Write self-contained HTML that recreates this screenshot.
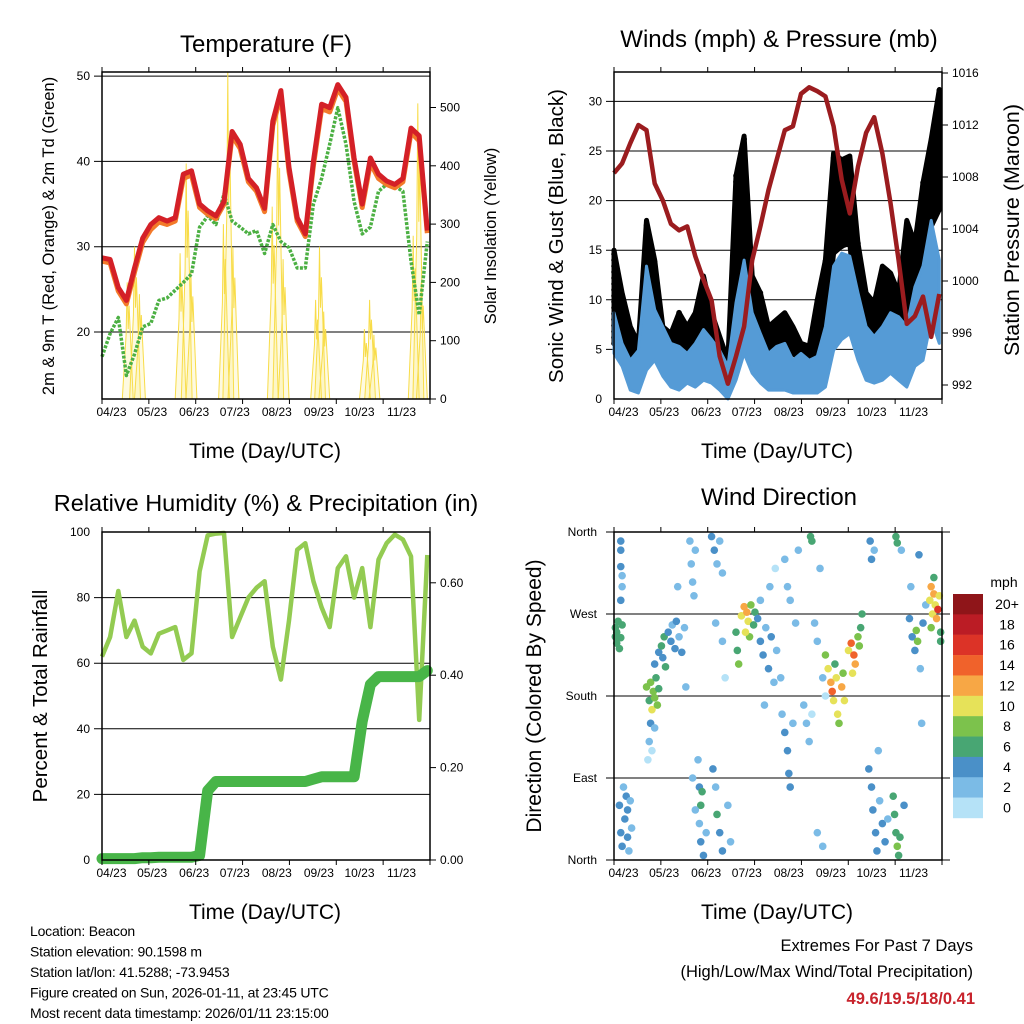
<!DOCTYPE html>
<html><head><meta charset="utf-8"><style>
html,body{margin:0;padding:0;background:#fff;}
svg{display:block;font-family:"Liberation Sans",sans-serif;}
</style></head><body>
<svg id="c" width="1024" height="1024" viewBox="0 0 1024 1024" xmlns="http://www.w3.org/2000/svg"></svg>
<script>
// ---------- data (sample every 6 days, day 0 = left edge) ----------
const tempRed=[28.7,28.5,25.2,23.7,27.5,31,32.6,33.4,33,33.4,38.5,38.9,35,34.2,33.6,35.3,43.5,42,38,36.9,34.5,44.7,48.3,39.3,33.4,31.5,40,46.7,46.3,49,47.5,40.4,35,40.4,38.5,37.7,37.3,38,43.9,43,31.9];
const tempOrange=[28.3,28.1,24.8,23.3,27,30.5,32,32.9,32.6,33,38,38.4,34.6,33.8,33.3,35,43,41.5,37.6,36.5,34.1,44.2,47.7,38.8,33,31.2,39.5,46.2,45.8,48.5,47,40,34.6,39.8,38,37.3,36.9,37.6,43.4,42.4,31.6];
const tempGreen=[17.1,19.8,21.7,14.9,17.4,20.6,21,23.7,24,24.9,25.8,26.8,32.3,33.6,32.6,36.2,33,32.3,31.5,31.9,29.2,32.6,30.6,29.9,27.5,27.5,35,38,42,46.3,42,35.3,31.5,32.3,36.5,37.3,37.1,36.5,28.3,22,30.6];
const solarDays=[19,24.4,28,58,62.5,66,90,93.2,97,126,130,134,158,160.9,164,194,197.8,201,230,233.4,236];
const solarVals=[200,261,180,250,404,220,300,561,260,330,496,240,170,261,150,120,170,110,280,507,200];
const pressure=[1008.3,1009.05,1010.6,1012,1011.6,1007.5,1006.2,1004.4,1003.9,1004.2,1001.9,1000.1,998.5,994.2,992.1,994.2,996.5,1001.6,1004.2,1007,1009.3,1011.6,1011.9,1014.4,1014.9,1014.6,1014.2,1011.9,1007.8,1005.2,1008.8,1011.4,1012.6,1009.8,1006,1001.6,996.7,997.3,998.8,995.7,999];
const windHigh=[8.7,5.6,3.9,4.9,13.4,9,7.3,5.6,5.3,4.6,5.6,7,6,4.9,3.3,9.7,14,8.7,6.6,4.6,5.3,5.6,3.9,4.6,3.9,4.3,7.3,13.4,14.7,14.4,10.7,7.3,6.3,7.3,8.7,8.3,7.3,11.3,13.4,18,14];
const windLow=[4.6,3.3,0.9,0.6,2.9,3.9,2.3,1.2,0.9,1.6,1.2,1.9,1.6,0.9,0,1.9,4.6,2.6,1.6,0.9,0.9,0.9,0.6,0.6,0.6,0.6,1.2,4.9,6,6.6,3.9,1.9,1.6,1.9,2.6,1.9,1.2,3.3,3.9,8,5.6];
const gustHigh=[15,10.7,7.3,5.6,18,14,7.3,6.6,8.7,7.3,8.7,12.4,8.7,6.3,3.9,22.5,26.5,12.4,10.7,7.3,8,8.7,7.3,5.6,5.3,10,14,24.8,24.1,24.5,15.7,10.7,9.7,13.4,12.7,10.7,18,15.7,21.8,26.2,31.2];
const gustLow=[5.6,3.9,2.6,1.9,7.3,6.6,3.9,2.9,3.9,3.9,4.6,5.6,4.6,2.3,0.9,8.7,12.4,6.3,5.3,3.9,4.6,4.6,4.6,3.9,3.3,3.9,7.3,14.7,15.4,15.7,7.3,5.6,4.9,6.6,6.6,6,7.3,8.7,14,17.4,19.1];
const relHum=[62,68,82,68,73,65,63,69,70,71,61,63,88,99,99.5,99.7,68,74,80,83,85,65,55,73,94.6,96.6,85,77,71,89,92.6,80,89,71,91.6,96.6,99.2,97.7,92.6,42.7,93];
const precip=[0.003,0.003,0.003,0.003,0.003,0.005,0.005,0.006,0.006,0.006,0.006,0.006,0.01,0.15,0.17,0.17,0.17,0.17,0.17,0.17,0.17,0.17,0.17,0.17,0.17,0.17,0.175,0.18,0.18,0.18,0.18,0.18,0.30,0.38,0.397,0.397,0.397,0.397,0.397,0.397,0.41];
const dirDays=[1,1,2,2,3,4,5,6,5,5,6,5,5,6,4,5,6,7,8,9,10,10,11,12,13,
24,26,27,28,29,30,31,32,33,27,26,25,28,30,33,35,36,37,38,30,
40,42,43,45,46,48,50,52,53,47,
56,57,58,59,60,62,63,64,65,63,64,66,58,60,68,
72,74,76,78,80,75,80,82,73,75,76,78,80,84,86,
90,91,92,94,96,98,99,101,100,103,104,97,
106,108,110,112,114,116,118,120,108,115,119,111,
124,126,128,129,130,132,126,128,130,134,136,123,
140,142,144,146,148,150,152,145,146,154,156,150,154,
156,158,160,161,162,164,165,166,168,170,163,169,
173,175,177,178,180,182,183,176,181,
188,190,191,193,194,196,198,189,190,192,200,202,195,
206,207,208,209,210,211,208,209,212,214,
218,220,222,223,224,226,228,230,219,225,227,
233,234,235,236,237,238,239,240,241,241,236,234];
const dirDegs=[255,245,238,250,262,232,244,258,340,322,300,285,350,312,60,30,15,80,45,70,25,55,10,65,35,
190,175,195,165,185,178,200,170,188,150,130,110,120,215,228,235,222,245,212,145,
250,240,258,232,262,245,228,255,190,300,
350,325,305,290,340,110,80,60,75,40,20,5,90,55,30,
355,340,325,350,315,260,240,200,100,80,50,30,10,60,20,
250,230,215,268,278,272,262,280,245,258,272,250,
265,240,225,255,210,245,195,230,285,300,320,170,
160,140,120,95,80,150,330,300,285,260,340,200,
170,150,130,160,260,240,320,355,350,200,180,30,15,
225,210,195,185,175,200,160,150,190,175,215,205,
230,238,225,215,245,255,270,205,235,
100,80,55,30,10,65,40,350,330,340,20,45,120,
70,50,30,15,5,25,355,348,340,60,
265,245,230,252,240,210,260,280,300,335,150,
285,300,270,292,280,265,275,290,250,240,310,255];
const dirSpeeds=[7,7,6,7,6,7,6,7,4,4,3,4,5,3,4,5,4,3,4,5,4,4,3,3,2,
8,7,9,10,9,8,7,9,7,5,2,1,1,5,5,6,5,7,6,3,
4,4,3,4,4,3,4,3,2,2,
2,3,2,3,3,3,4,7,7,3,4,4,2,3,3,
4,4,2,3,2,2,2,1,4,3,7,4,4,3,2,
7,7,8,10,12,13,11,9,8,7,7,10,
4,4,4,3,5,4,3,3,2,2,1,2,
3,4,4,4,4,2,3,2,3,2,2,2,
2,3,2,1,2,3,3,7,7,3,1,3,2,
8,11,12,14,11,10,10,9,12,11,7,8,
11,14,15,12,9,7,7,10,8,
4,4,5,4,4,3,4,4,4,3,4,3,3,
7,7,7,8,7,6,7,7,3,4,
4,4,5,9,8,3,4,3,2,4,3,
11,12,10,13,11,12,17,11,7,7,7,8];
const monthLabels=["04/23","05/23","06/23","07/23","08/23","09/23","10/23","11/23"];
const monthDays=[7,37,68,98,129,160,190,221];
const tempTicks=[20,30,40,50];
const solarTicks=[0,100,200,300,400,500];
const windTicks=[0,5,10,15,20,25,30];
const presTicks=[992,996,1000,1004,1008,1012,1016];
const rhTicks=[0,20,40,60,80,100];
const rainTicks=[0,0.2,0.4,0.6];
const dirTicks=[0,90,180,270,360];
const dirNames=["North","East","South","West","North"];
const speedLabels=["20+","18","16","14","12","10","8","6","4","2","0"];
const speedColors=["#8f1519","#bb1c25","#dc3327","#f0622b","#f7a745","#e6e259","#7cc24c","#48a673","#4a90c8","#7bbbe6","#b5e2f7"];

// ---------- helpers ----------
const NS="http://www.w3.org/2000/svg";
const svg=document.getElementById('c');
function mk(tag,attrs,parent){const e=document.createElementNS(NS,tag);for(const k in attrs)e.setAttribute(k,attrs[k]);(parent||svg).appendChild(e);return e;}
function txt(s,x,y,size,anchor,parent,extra){const e=mk('text',Object.assign({x:x,y:y,'font-size':size,'text-anchor':anchor||'middle',fill:'#000'},extra||{}),parent);e.textContent=s;return e;}
const DAYSPAN=242;
function X(P,d){return P.x0+d/DAYSPAN*(P.x1-P.x0);}
function dayOf(i){return i*6;}
const P1={x0:102,x1:430,y0:72,y1:399};
const P2={x0:614,x1:942,y0:72,y1:399};
const P3={x0:102,x1:430,y0:532,y1:860};
const P4={x0:614,x1:942,y0:532,y1:860};
const yT=v=>332-(v-20)*8.53, yS=v=>399-v*0.583;
const yW=v=>399-v*9.92, yP=v=>385-(v-992)*13;
const yR=v=>860-v*3.28, yQ=v=>860-v*462;
const yD=v=>860-v/360*328;
function poly(arr,P,fy){return arr.map((v,i)=>X(P,dayOf(i)).toFixed(1)+','+fy(v).toFixed(1)).join(' ');}

function frame(P,g,name){
  const r=mk('rect',{x:P.x0,y:P.y0,width:P.x1-P.x0,height:P.y1-P.y0,fill:'none',stroke:'#000','stroke-width':1.5},g);
  
  
  for(let k=0;k<8;k++){const x=P.x0+k*(P.x1-P.x0)/7;
    const t1=mk('line',{x1:x,x2:x,y1:P.y1,y2:P.y1+5,stroke:'#000','stroke-width':1},g);
    
    
    const t2=mk('line',{x1:x,x2:x,y1:P.y0,y2:P.y0-5,stroke:'#000','stroke-width':1},g);
    
    }
  monthLabels.forEach((m,i)=>{const t=txt(m,X(P,monthDays[i]),P.y1+17,12,'middle',g);
    
    });
  const xt=txt('Time (Day/UTC)',(P.x0+P.x1)/2-1,P.y1+59,21,'middle',g);
  
  
}
function hgrid(P,vals,fy,g,ext){
  vals.forEach(v=>{const y=fy(v);const l=mk('line',{x1:P.x0-(ext||8),x2:P.x1,y1:y,y2:y,stroke:'#000','stroke-width':1},g);
    
    });
}
function rticks(P,vals,fy,fmt,g){
  vals.forEach(v=>{const y=fy(v);const l=mk('line',{x1:P.x1,x2:P.x1+6,y1:y,y2:y,stroke:'#000'},g);
    
    
    const t=txt(fmt(v),P.x1+10,y+4,12,'start',g);
    
    });
}
function lticks(P,vals,fy,fmt,g,size){
  vals.forEach(v=>{const t=txt(fmt(v),P.x0-12,fy(v)+4,size||12,'end',g);
    
    });
}
function vtitle(s,x,y,size,g,name){const t=txt(s,x,y,size,'middle',g,{transform:'rotate(-90 '+x+' '+y+')'});
  
  }

// ---------- Panel 1: Temperature ----------
const g1=mk('g',{});


let t=txt('Temperature (F)',266,52,24,'middle',g1);


hgrid(P1,tempTicks,yT,g1);
lticks(P1,tempTicks,yT,v=>v,g1);
rticks(P1,solarTicks,yS,v=>v,g1);
solarDays.forEach((d,i)=>{const v=solarVals[i];
  const pts=[[d-4,0],[d-1.2,v*0.55],[d-0.4,v],[d+0.3,v*0.6],[d+1,v*0.8],[d+4,0]].map(p=>X(P1,p[0]).toFixed(1)+','+yS(p[1]).toFixed(1)).join(' ');
  const s=mk('polyline',{points:pts,fill:'rgba(252,230,100,0.2)',stroke:'#f8dc48','stroke-width':1},g1);
  
  });
let l=mk('polyline',{points:poly(tempGreen,P1,yT),fill:'none',stroke:'#4cb043','stroke-width':3.5,'stroke-dasharray':'3 1.5','stroke-linejoin':'round'},g1);


l=mk('polyline',{points:poly(tempOrange,P1,yT),fill:'none',stroke:'#f37a2a','stroke-width':5,'stroke-linejoin':'round'},g1);


l=mk('polyline',{points:poly(tempRed,P1,yT),fill:'none',stroke:'#d42027','stroke-width':5,'stroke-linejoin':'round'},g1);


frame(P1,g1,'temperature');
vtitle('2m & 9m T (Red, Orange) & 2m Td (Green)',54,236,16.5,g1,'temperature-y-axis-title');
vtitle('Solar Insolation (Yellow)',496,236,16.5,g1,'solar-y-axis-title');

// ---------- Panel 2: Winds ----------
const g2=mk('g',{});


t=txt('Winds (mph) & Pressure (mb)',779,47,24,'middle',g2);


hgrid(P2,windTicks.slice(1),yW,g2);
lticks(P2,windTicks,yW,v=>v,g2);
rticks(P2,presTicks,yP,v=>v,g2);
const gustPts=gustHigh.map((v,i)=>X(P2,dayOf(i)).toFixed(1)+','+yW(v).toFixed(1)).concat(gustLow.map((v,i)=>X(P2,dayOf(i)).toFixed(1)+','+yW(v).toFixed(1)).reverse()).join(' ');
l=mk('polygon',{points:gustPts,fill:'#000',stroke:'#000','stroke-width':5,'stroke-linejoin':'round'},g2);


gustHigh.forEach((h,i)=>{const x=X(P2,dayOf(i));
  for(let v=gustLow[i];v<=h+0.01;v+=0.6){const c=mk('circle',{cx:x,cy:yW(v),r:2.8,fill:'#000'},g2);
    
    }});
const bandPts=windHigh.map((v,i)=>X(P2,dayOf(i)).toFixed(1)+','+yW(v).toFixed(1)).concat(windLow.map((v,i)=>X(P2,dayOf(i)).toFixed(1)+','+yW(v).toFixed(1)).reverse()).join(' ');
l=mk('polygon',{points:bandPts,fill:'#559bd6',stroke:'#559bd6','stroke-width':3,'stroke-linejoin':'round'},g2);


l=mk('polyline',{points:poly(pressure,P2,yP),fill:'none',stroke:'#9b1c1f','stroke-width':4.5,'stroke-linejoin':'round'},g2);


frame(P2,g2,'winds');
vtitle('Sonic Wind & Gust (Blue, Black)',563,236,20.5,g2,'wind-y-axis-title');
vtitle('Station Pressure (Maroon)',1019,230,21.5,g2,'pressure-y-axis-title');

// ---------- Panel 3: RH & Precip ----------
const g3=mk('g',{});


t=txt('Relative Humidity (%) & Precipitation (in)',266,511,23.5,'middle',g3);


hgrid(P3,rhTicks.slice(1,5),yR,g3,0);
lticks(P3,rhTicks,yR,v=>v,g3);
rticks(P3,rainTicks,yQ,v=>v.toFixed(2),g3);
l=mk('polyline',{points:poly(relHum,P3,yR),fill:'none',stroke:'#93cb52','stroke-width':4.5,'stroke-linejoin':'round'},g3);


l=mk('polyline',{points:poly(precip,P3,yQ),fill:'none',stroke:'#48b548','stroke-width':11,'stroke-linejoin':'round','stroke-linecap':'round'},g3);


frame(P3,g3,'humidity');
vtitle('Percent & Total Rainfall',47,696,20.5,g3,'humidity-y-axis-title');

// ---------- Panel 4: Wind Direction ----------
const g4=mk('g',{});


t=txt('Wind Direction',779,505,24,'middle',g4);


dirTicks.forEach(v=>{const y=yD(v);const ln=mk('line',{x1:606,x2:950,y1:y,y2:y,stroke:'#000','stroke-width':1},g4);
  
  });
dirTicks.forEach((v,i)=>{const tt=txt(dirNames[i],597,yD(v)+4,12,'end',g4);
  
  });
function spColor(s){let b=Math.floor(s/2);if(b>10)b=10;return speedColors[10-b];}
dirDays.forEach((d,i)=>{const c=mk('circle',{cx:X(P4,d),cy:yD(dirDegs[i]),r:3.8,fill:spColor(dirSpeeds[i])},g4);
  
  });
frame(P4,g4,'wind-direction');
vtitle('Direction (Colored By Speed)',541,696,21,g4,'direction-y-axis-title');
t=txt('mph',1004,587,14,'middle',g4);


speedColors.forEach((c,i)=>{const y=594+i*20.36;
  const r=mk('rect',{x:953,y:y,width:30,height:20.6,fill:c},g4);
  
  
  const tt=txt(speedLabels[i],1007,y+15,14,'middle',g4);
  
  });

// ---------- Footer ----------
const info=["Location: Beacon","Station elevation: 90.1598 m","Station lat/lon: 41.5288; -73.9453","Figure created on Sun, 2026-01-11, at 23:45 UTC","Most recent data timestamp: 2026/01/11 23:15:00"];
info.forEach((s,i)=>{const tt=txt(s,30,936+i*20.5,14,'start',null,{'letter-spacing':'-0.2'});
  
  });
t=txt('Extremes For Past 7 Days',973,951,16.5,'end');


t=txt('(High/Low/Max Wind/Total Precipitation)',973,977,16.5,'end');


t=txt('49.6/19.5/18/0.41',975,1004,16.5,'end',null,{fill:'#c8232c','font-weight':'bold'});


</script>
</body></html>
